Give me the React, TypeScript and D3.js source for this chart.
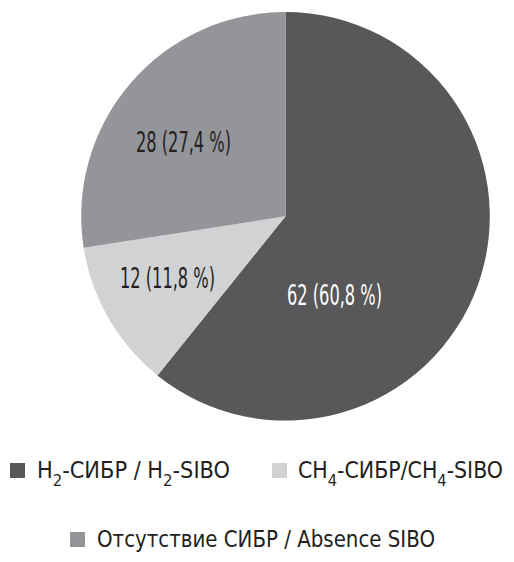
import React from "react";
import * as d3 from "d3";

const categories = ["H2-СИБР / H2-SIBO", "CH4-СИБР/CH4-SIBO", "Отсутствие СИБР / Absence SIBO"];
const values = [62, 12, 28];
const percents = ["60,8", "11,8", "27,4"];
const colors = ["#58585a", "#d1d2d4", "#949598"];
const textColors = ["#ffffff", "#231f20", "#231f20"];

// label placement relative to pie center (layout, not data)
const labelOffsets: [number, number][] = [
  [49, 89],
  [-118, 72],
  [-102, -64],
];

const W = 514;
const H = 562;
const cx = 285.5;
const cy = 216.3;
const R = 204.3;
const FONT = "'DejaVu Sans Condensed', 'Liberation Sans Narrow', 'Roboto', sans-serif";

export default function App() {
  const pie = d3.pie<number>().sort(null).value((d) => d)(values);
  const arc = d3.arc<d3.PieArcDatum<number>>().innerRadius(0).outerRadius(R);

  const legendText = (i: number) => {
    if (i === 0)
      return (
        <>
          <tspan>H</tspan>
          <tspan fontSize={16} dy={8}>2</tspan>
          <tspan dy={-8}>-СИБР / H</tspan>
          <tspan fontSize={16} dy={8}>2</tspan>
          <tspan dy={-8}>-SIBO</tspan>
        </>
      );
    if (i === 1)
      return (
        <>
          <tspan>CH</tspan>
          <tspan fontSize={16} dy={8}>4</tspan>
          <tspan dy={-8}>-СИБР/CH</tspan>
          <tspan fontSize={16} dy={8}>4</tspan>
          <tspan dy={-8}>-SIBO</tspan>
        </>
      );
    return <tspan>{categories[2]}</tspan>;
  };

  const legend = [
    { sx: 10, sy: 463, tx: 37, ty: 478, tl: 193 },
    { sx: 272, sy: 463, tx: 298, ty: 478, tl: 205 },
    { sx: 70, sy: 532, tx: 97, ty: 547, tl: 338 },
  ];

  return (
    <svg width={W} height={H} style={{ position: "absolute", left: 0, top: 0, background: "#fff" }}>
      <g transform={`translate(${cx},${cy})`}>
        {pie.map((p, i) => (
          <path key={i} d={arc(p) || ""} fill={colors[i]} />
        ))}
        {pie.map((p, i) => (
          <text
            key={"l" + i}
            x={labelOffsets[i][0]}
            y={labelOffsets[i][1]}
            textAnchor="middle"
            fontFamily={FONT}
            fontSize={28}
            fill={textColors[i]}
            textLength={95}
            lengthAdjust="spacingAndGlyphs"
          >
            {`${values[i]} (${percents[i]} %)`}
          </text>
        ))}
      </g>
      {legend.map((l, i) => (
        <g key={"lg" + i}>
          <rect x={l.sx} y={l.sy} width={15} height={15} fill={colors[i]} />
          <text
            x={l.tx}
            y={l.ty}
            fontFamily={FONT}
            fontSize={22.5}
            fill="#231f20"
            textLength={l.tl}
            lengthAdjust="spacingAndGlyphs"
          >
            {legendText(i)}
          </text>
        </g>
      ))}
    </svg>
  );
}
